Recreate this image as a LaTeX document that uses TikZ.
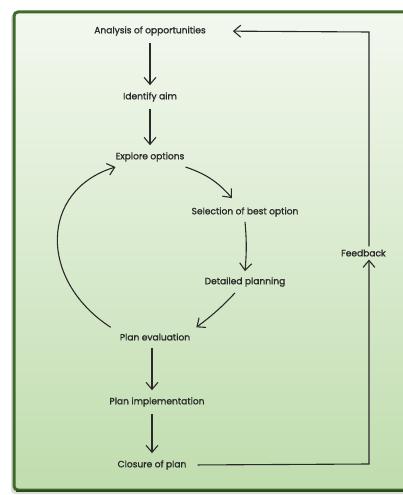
\documentclass[tikz,border=0pt]{standalone}
\usepackage{fontspec}
\setmainfont{Poppins}[FakeBold=1.3]
\usepackage{tikz}
\usetikzlibrary{arrows.meta,calc,positioning}
\definecolor{FrameGreen}{HTML}{3F6A2A}
\definecolor{PaleTop}{HTML}{F3F8EF}
\definecolor{PaleBottom}{HTML}{C0DDAE}
\definecolor{InkGray}{HTML}{2A2A2A}
\definecolor{ShadowGray}{HTML}{B8B8B8}

\begin{document}
\begin{tikzpicture}[x=1pt, y=-1pt, >={Straight Barb[length=7pt,width=12pt]},
    stage/.style={font=\fontsize{9.1}{10}\selectfont, text=InkGray, inner sep=3pt},
    flow/.style={->, line width=1.1pt, draw=InkGray}]
    \useasboundingbox (0,0) rectangle (403,495);
    \clip (0,0) rectangle (403,495);

    % Frame
    \fill[ShadowGray!50, rounded corners=4pt] (11,14) rectangle (412,494);
    \shade[top color=PaleTop, bottom color=PaleBottom, rounded corners=4pt]
        (14,12) rectangle (412,490);
    \draw[FrameGreen, line width=3pt, rounded corners=4pt] (14,12) rectangle (412,490);
    \draw[FrameGreen!70!black, line width=2pt] (16,491) -- (412,491);

    % Steps
    \node[stage] (anal) at (150,31) {Analysis of opportunities};
    \node[stage] (aim) at (150,97) {Identify aim};
    \node[stage] (explore) at (150,157) {Explore options};
    \node[stage] (select) at (245,212) {Selection of best option};
    \node[stage] (detail) at (245,282) {Detailed planning};
    \node[stage] (evalu) at (155,337) {Plan evaluation};
    \node[stage] (implement) at (157,402) {Plan implementation};
    \node[stage] (closure) at (152,465) {Closure of plan};
    \node[stage, anchor=west] (feedback) at (338,253) {Feedback};

    % Corners of the feedback loop
    \coordinate (fbtop) at (369,32);
    \coordinate (fbbot) at (369,464);

    % Main flow
    \draw[flow, shorten <=4pt, shorten >=4pt] (anal) -- (aim);
    \draw[flow, shorten <=4pt, shorten >=4pt] (aim) -- (explore);
    \draw[flow] ($(explore.east)+(-2,10)$) to[bend left=15] ($(select.north)+(-13,-6)$);
    \draw[flow] ($(select.south)+(0,2)$) to[bend left=5] ($(detail.north)+(0,-3)$);
    \draw[flow] ($(detail.south)+(-10,3)$) to[bend left=5] ($(evalu.north east)+(3,-3)$);
    \draw[flow, shorten <=4pt, shorten >=4pt] (evalu.south -| closure) -- (implement.north -| closure);
    \draw[flow, shorten <=4pt, shorten >=4pt] (implement.south -| closure) -- (closure.north);

    % Return from evaluation to options
    \draw[flow] ($(evalu.north west)+(-6,-3)$) .. controls (38,280) and (40,190) .. ($(explore.west)+(3,10)$);

    % Feedback loop
    \draw[flow, shorten <=8pt] (closure.east) -- (fbbot) -- (feedback.south -| fbbot);
    \draw[flow, shorten >=24pt] (feedback.north -| fbtop) -- (fbtop) -- (anal.east);
\end{tikzpicture}
\end{document}
